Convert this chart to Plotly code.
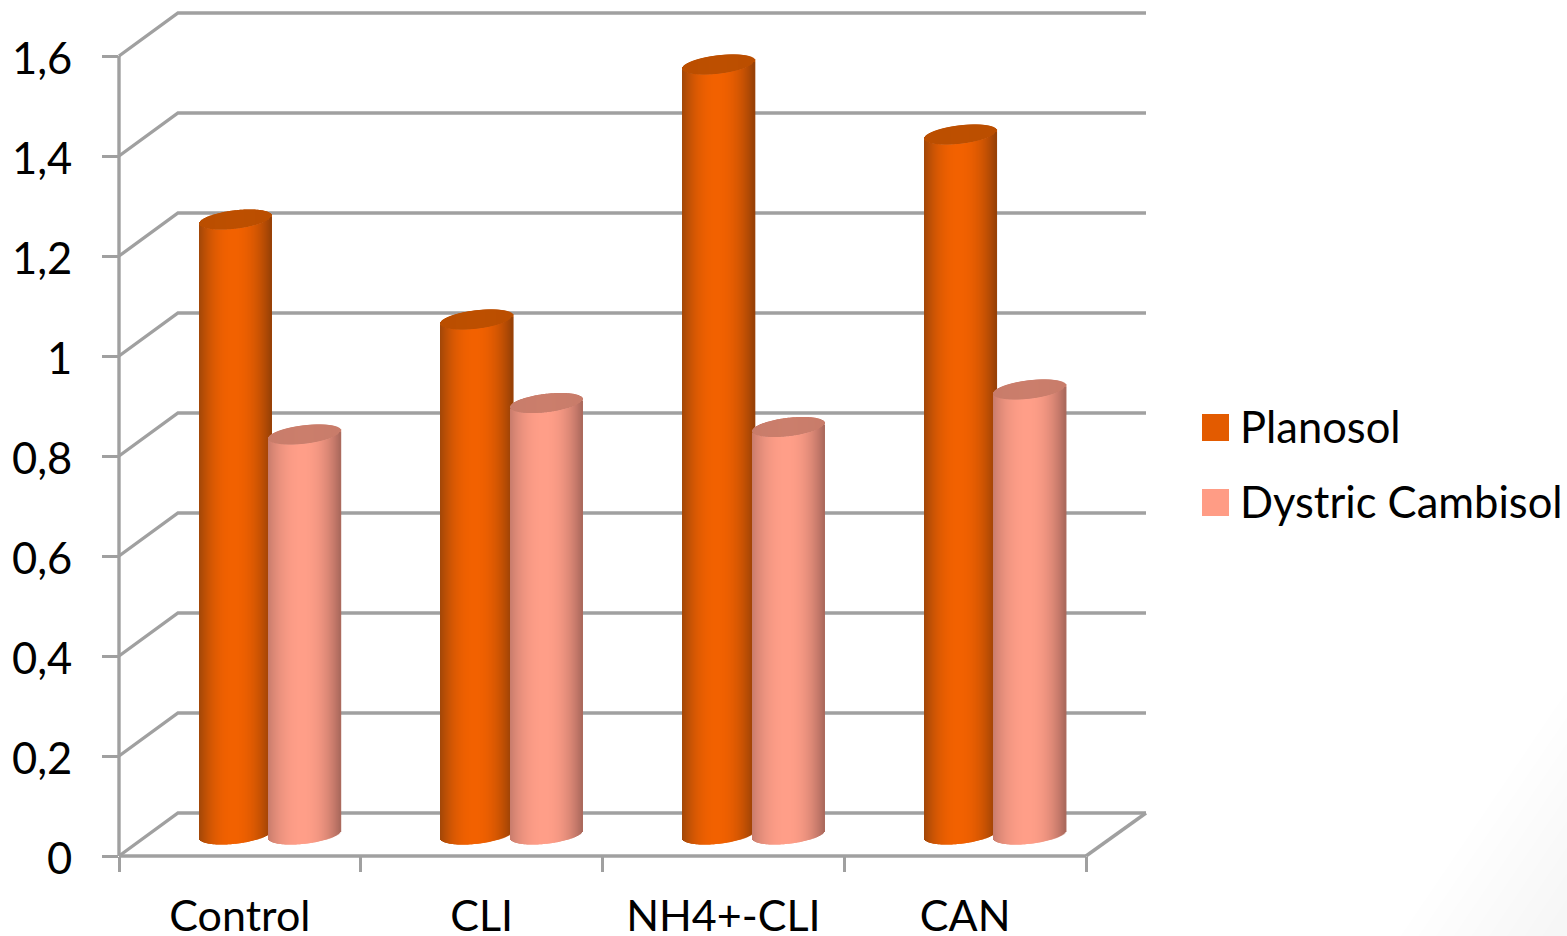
import math
import plotly.graph_objects as go

categories = ["Control", "CLI", "NH4+-CLI", "CAN"]
planosol = [1.23, 1.03, 1.54, 1.40]
dystric = [0.80, 0.863, 0.815, 0.89]
y_ticks = [0, 0.2, 0.4, 0.6, 0.8, 1.0, 1.2, 1.4, 1.6]
y_labels = ["0", "0,2", "0,4", "0,6", "0,8", "1", "1,2", "1,4", "1,6"]

W, H = 1567, 936
L, R, T, B = 119, 1146, 13, 856
PX_X = 241.75          # pixels per category
PX_Y = 500.0           # pixels per value unit
DEPTH_X = 59 / PX_X
DEPTH_Y = 43 / PX_Y
XMAX = (R - L) / PX_X
YMAX = (B - T) / PX_Y
GRID = "#A0A0A0"
FONT = "Lato"
FS = 43.5

N = 72
A = 36 / PX_X          # ellipse half width
EB = 9.2 / PX_Y        # ellipse half height
EK = 4 / PX_Y          # ellipse tilt


def lerp_raw(c1, c2, f):
    return tuple(a + (b - a) * f for a, b in zip(c1, c2))


def lerp(c1, c2, f):
    return "rgb(%d,%d,%d)" % tuple(round(x) for x in lerp_raw(c1, c2, f))


def cylinders(name, values, offset, bright, dark_l, dark_r, cap):
    xs, bases, heights, colors = [], [], [], []
    step = 2 / N
    for i, v in enumerate(values):
        c = i + offset
        floor = DEPTH_Y / 2
        top = v + DEPTH_Y / 2
        for j in range(N):
            u = -1 + (j + 0.5) * step
            s = math.sqrt(max(0, 1 - u * u))
            low = floor + EK * u - EB * s
            front_top = top + EK * u - EB * s
            back_top = top + EK * u + EB * s
            m = (u + 0.05) / (1.05 if u > -0.05 else 0.95)
            f = 1 - abs(m) ** 2.2
            xs.append(c + u * A)
            bases.append(low)
            heights.append(front_top - low)
            colors.append(lerp(dark_r if u > 0 else dark_l, bright, f))
            xs.append(c + u * A)
            bases.append(front_top)
            heights.append(back_top - front_top)
            colors.append(lerp(cap, lerp_raw(cap, bright, 0.06), 1 - abs(u)))
    return go.Bar(
        x=xs, y=heights, base=bases, width=step * A * 1.6,
        marker=dict(color=colors, line=dict(width=0)),
        name=name, showlegend=False, hoverinfo="skip",
    )


fig = go.Figure()
fig.add_trace(cylinders("Planosol", planosol, 0.482,
                        (242, 97, 0), (160, 70, 8), (150, 64, 6), (186, 78, 0)))
fig.add_trace(cylinders("Dystric Cambisol", dystric, 0.769,
                        (255, 158, 136), (200, 124, 108), (170, 104, 92), (200, 124, 106)))

line = dict(color=GRID, width=3.4)
shapes = []


def px(x):
    return (x - L) / (R - L)


def py(y):
    return (B - y) / (B - T)


def dx(v):
    return v / XMAX


def dy(v):
    return v / YMAX


# faint shading in the lower right corner of the page
for k in range(9):
    d = k * 26
    p0 = (1567, 690 + d)
    p1 = (1400 + d * 0.68, 936)
    shapes.append(dict(
        type="path", xref="paper", yref="paper", layer="below",
        path=f"M{px(p0[0])},{py(p0[1])} L{px(p1[0])},{py(p1[1])} L{px(1567)},{py(936)} Z",
        fillcolor="rgba(0,0,0,0.005)", line=dict(width=0)))

# back wall grid lines with the slanted side wall (paper refs so they are not clipped)
for v in y_ticks:
    shapes.append(dict(type="path", layer="below", xref="paper", yref="paper",
                       path=f"M{dx(0)},{dy(v)} L{dx(DEPTH_X)},{dy(v + DEPTH_Y)} L{dx(XMAX)},{dy(v + DEPTH_Y)}",
                       line=line))
# axis lines and floor edge
shapes.append(dict(type="line", layer="below", xref="paper", yref="paper",
                   x0=dx(0), x1=dx(0), y0=dy(0), y1=dy(1.6), line=line))
shapes.append(dict(type="line", layer="below", xref="paper", yref="paper",
                   x0=dx(0), x1=dx(len(categories)), y0=dy(0), y1=dy(0), line=line))
shapes.append(dict(type="line", layer="below", xref="paper", yref="paper",
                   x0=dx(len(categories)), x1=dx(XMAX), y0=dy(0), y1=dy(DEPTH_Y), line=line))
# legend swatches
for top, col in ((414, "#E35B00"), (489, "#FF9C85")):
    shapes.append(dict(type="rect", xref="paper", yref="paper",
                       x0=px(1202), x1=px(1229), y0=py(top + 27), y1=py(top),
                       fillcolor=col, line=dict(width=0)))

annotations = [
    dict(text=name, xref="paper", yref="paper", x=px(1238), y=py(cy),
         xanchor="left", yanchor="middle", showarrow=False,
         font=dict(family=FONT, size=FS, color="#000000"))
    for name, cy in (("Planosol", 426), ("Dystric Cambisol", 501))
]

fig.update_layout(
    width=W, height=H, autosize=False,
    margin=dict(l=L, r=W - R, t=T, b=H - B, pad=0),
    paper_bgcolor="#FFFFFF", plot_bgcolor="rgba(0,0,0,0)",
    barmode="overlay", showlegend=False,
    shapes=shapes, annotations=annotations,
    xaxis=dict(
        range=[0, XMAX], tickmode="array",
        tickvals=[i + 0.5 for i in range(len(categories))], ticktext=categories,
        ticks="", showgrid=False, zeroline=False, showline=False, automargin=False,
        tickangle=0, ticklabelstandoff=31,
        tickfont=dict(family=FONT, size=43, color="#000000"),
        minor=dict(tickmode="array", tickvals=list(range(len(categories) + 1)),
                   ticks="outside", ticklen=15, tickwidth=3, tickcolor=GRID, showgrid=False),
    ),
    yaxis=dict(
        range=[0, YMAX], tickmode="array", tickvals=y_ticks, ticktext=y_labels,
        ticks="outside", ticklen=16, tickwidth=3, tickcolor=GRID,
        showgrid=False, zeroline=False, showline=False, automargin=False,
        ticklabelstandoff=21, ticklabelshift=3,
        tickfont=dict(family=FONT, size=FS, color="#000000"),
    ),
)

fig.write_html("out.html", config=dict(displayModeBar=False),
               post_script="document.body.style.margin='0';document.documentElement.style.overflow='hidden';")
